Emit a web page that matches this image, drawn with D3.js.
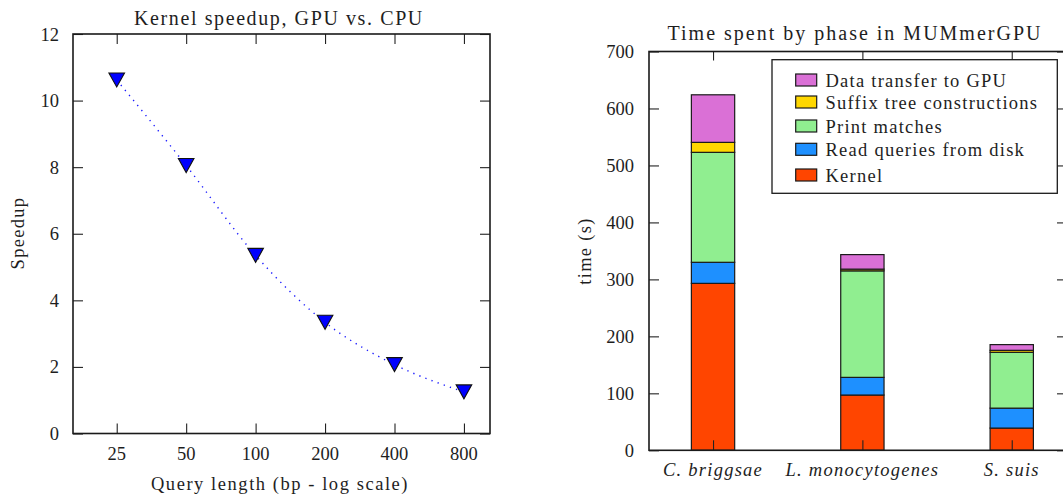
<!DOCTYPE html>
<html>
<head>
<meta charset="utf-8">
<script src="https://cdn.jsdelivr.net/npm/d3@7"></script>
<style>
  html, body { margin: 0; padding: 0; background: #fff; }
  svg { display: block; }
  text { font-family: "Liberation Serif", "DejaVu Serif", serif; fill: #1e1e1e; }
</style>
</head>
<body>
<svg id="chart" width="1063" height="500"></svg>
<script>
// ---------- Data: left chart ----------
const queryLengths = [25, 50, 100, 200, 400, 800];
const speedup = [10.62, 8.05, 5.35, 3.34, 2.07, 1.25];
const speedupTicks = [0, 2, 4, 6, 8, 10, 12];

// ---------- Data: right chart ----------
const organisms = ["C. briggsae", "L. monocytogenes", "S. suis"];
const kernel = [293, 97, 39];
const readQueries = [37, 31, 35];
const printMatches = [193, 187, 98];
const suffixTree = [17.5, 3, 3.5];
const dataTransfer = [83.5, 25.5, 10];
const phaseNames = ["Kernel", "Read queries from disk", "Print matches", "Suffix tree constructions", "Data transfer to GPU"];
const phaseColors = ["#ff4500", "#1e90ff", "#90ee90", "#ffd700", "#da70d6"];
const timeTicks = [0, 100, 200, 300, 400, 500, 600, 700];

const svg = d3.select("#chart");
const FRAME = "#1a1a1a";
const TICK_FS = "18.5px";
const LABEL_FS = "18.5px";

// ================= LEFT CHART =================
(function () {
  const L = 73, R = 490, T = 34, B = 433.5;
  const x = d3.scaleLog().base(2).domain([16.16, 1037.6]).range([L, R]);
  const y = d3.scaleLinear().domain([0, 12]).range([B, T]);
  const g = svg.append("g");

  const line = d3.line().x((d, i) => x(queryLengths[i])).y(d => y(d)).curve(d3.curveMonotoneX);
  g.append("path").attr("d", line(speedup))
    .attr("fill", "none").attr("stroke", "#1a1aff").attr("stroke-width", 1.4)
    .attr("stroke-dasharray", "1.3,5.2").attr("stroke-linecap", "butt");

  g.selectAll("path.mk").data(speedup).join("path").attr("class", "mk")
    .attr("transform", (d, i) => `translate(${x(queryLengths[i])},${y(d)})`)
    .attr("d", "M-7.8,-7L7.8,-7L0,7Z")
    .attr("fill", "#0000ff").attr("stroke", "#111").attr("stroke-width", 1.1).attr("stroke-linejoin", "miter");

  const ax = (sel) => sel.selectAll(".domain").remove();
  g.append("g").attr("transform", `translate(0,${B})`)
    .call(d3.axisTop(x).tickValues(queryLengths).tickSize(10).tickFormat("")).call(ax);
  g.append("g").attr("transform", `translate(0,${T})`)
    .call(d3.axisBottom(x).tickValues(queryLengths).tickSize(10).tickFormat("")).call(ax);
  g.append("g").attr("transform", `translate(${L},0)`)
    .call(d3.axisRight(y).tickValues(speedupTicks).tickSize(10).tickFormat("")).call(ax);
  g.append("g").attr("transform", `translate(${R},0)`)
    .call(d3.axisLeft(y).tickValues(speedupTicks).tickSize(10).tickFormat("")).call(ax);
  g.selectAll(".tick line").attr("stroke", "#222").attr("stroke-width", 1.1);

  g.selectAll("text.yl").data(speedupTicks).join("text").attr("class", "yl")
    .attr("x", 59).attr("y", d => y(d) + 6.5).attr("text-anchor", "end")
    .style("font-size", TICK_FS).text(d => d);
  g.selectAll("text.xl").data(queryLengths).join("text").attr("class", "xl")
    .attr("x", d => x(d)).attr("y", 460).attr("text-anchor", "middle")
    .style("font-size", TICK_FS).text(d => d);

  g.append("rect").attr("x", L).attr("y", T).attr("width", R - L).attr("height", B - T)
    .attr("fill", "none").attr("stroke", FRAME).attr("stroke-width", 1.6);

  g.append("text").attr("x", 279).attr("y", 24.5).attr("text-anchor", "middle")
    .style("font-size", "20px").style("letter-spacing", "1.6px").text("Kernel speedup, GPU vs. CPU");
  g.append("text").attr("x", 280).attr("y", 490).attr("text-anchor", "middle")
    .style("font-size", LABEL_FS).style("letter-spacing", "1.55px").text("Query length (bp - log scale)");
  g.append("text").attr("transform", "translate(24,233) rotate(-90)").attr("text-anchor", "middle")
    .style("font-size", LABEL_FS).style("letter-spacing", "1.3px").text("Speedup");
})();

// ================= RIGHT CHART =================
(function () {
  const L = 649, R = 1067, T = 51.5, B = 450.3;
  const x = d3.scaleLinear().domain([-0.4287, 2.37]).range([L, R]);
  const y = d3.scaleLinear().domain([0, 700]).range([B, T]);
  const g = svg.append("g");
  const idx = organisms.map((d, i) => i);
  const barW = x(0.29) - x(0);

  const rows = organisms.map((o, i) => ({
    i, k: kernel[i], r: readQueries[i], p: printMatches[i], s: suffixTree[i], d: dataTransfer[i]
  }));
  const keys = ["k", "r", "p", "s", "d"];
  const series = d3.stack().keys(keys)(rows);

  series.forEach((s, si) => {
    g.selectAll(null).data(s).join("rect")
      .attr("x", d => x(d.data.i) - barW / 2)
      .attr("y", d => y(d[1]))
      .attr("width", barW)
      .attr("height", d => y(d[0]) - y(d[1]))
      .attr("fill", phaseColors[si])
      .attr("stroke", "#1a1a1a").attr("stroke-width", 1.2);
  });

  const ax = (sel) => sel.selectAll(".domain").remove();
  g.append("g").attr("transform", `translate(0,${B})`)
    .call(d3.axisTop(x).tickValues(idx).tickSize(10).tickFormat("")).call(ax);
  g.append("g").attr("transform", `translate(0,${T})`)
    .call(d3.axisBottom(x).tickValues(idx).tickSize(9).tickFormat("")).call(ax);
  g.append("g").attr("transform", `translate(${L},0)`)
    .call(d3.axisRight(y).tickValues(timeTicks).tickSize(10).tickFormat("")).call(ax);
  g.append("g").attr("transform", `translate(${R},0)`)
    .call(d3.axisLeft(y).tickValues(timeTicks).tickSize(10).tickFormat("")).call(ax);
  g.selectAll(".tick line").attr("stroke", "#222").attr("stroke-width", 1.1);

  g.selectAll("text.yl").data(timeTicks).join("text").attr("class", "yl")
    .attr("x", 634).attr("y", d => y(d) + 6.5).attr("text-anchor", "end")
    .style("font-size", TICK_FS).text(d => d);
  g.selectAll("text.xl").data(organisms).join("text").attr("class", "xl")
    .attr("x", (d, i) => x(i)).attr("y", 476).attr("text-anchor", "middle")
    .style("font-size", LABEL_FS).style("font-style", "italic").style("letter-spacing", "1.25px").text(d => d);

  g.append("rect").attr("x", L).attr("y", T).attr("width", R - L).attr("height", B - T)
    .attr("fill", "none").attr("stroke", FRAME).attr("stroke-width", 1.6);

  const lg = g.append("g");
  lg.append("rect").attr("x", 772).attr("y", 59.7).attr("width", 285.3).attr("height", 133.6)
    .attr("fill", "#fff").attr("stroke", FRAME).attr("stroke-width", 1.3);
  const legendOrder = [4, 3, 2, 1, 0];
  const ly = [74, 96, 120, 143.3, 169];
  legendOrder.forEach((pi, j) => {
    lg.append("rect").attr("x", 795.7).attr("y", ly[j]).attr("width", 21).attr("height", 12)
      .attr("fill", phaseColors[pi]).attr("stroke", "#1a1a1a").attr("stroke-width", 1.2);
    lg.append("text").attr("x", 825.5).attr("y", ly[j] + 13)
      .style("font-size", LABEL_FS).style("letter-spacing", "1.25px").text(phaseNames[pi]);
  });

  g.append("text").attr("x", 855).attr("y", 39.5).attr("text-anchor", "middle")
    .style("font-size", "20px").style("letter-spacing", "2px").text("Time spent by phase in MUMmerGPU");
  g.append("text").attr("transform", "translate(591,251) rotate(-90)").attr("text-anchor", "middle")
    .style("font-size", LABEL_FS).style("letter-spacing", "1.3px").text("time (s)");
})();
</script>
</body>
</html>
